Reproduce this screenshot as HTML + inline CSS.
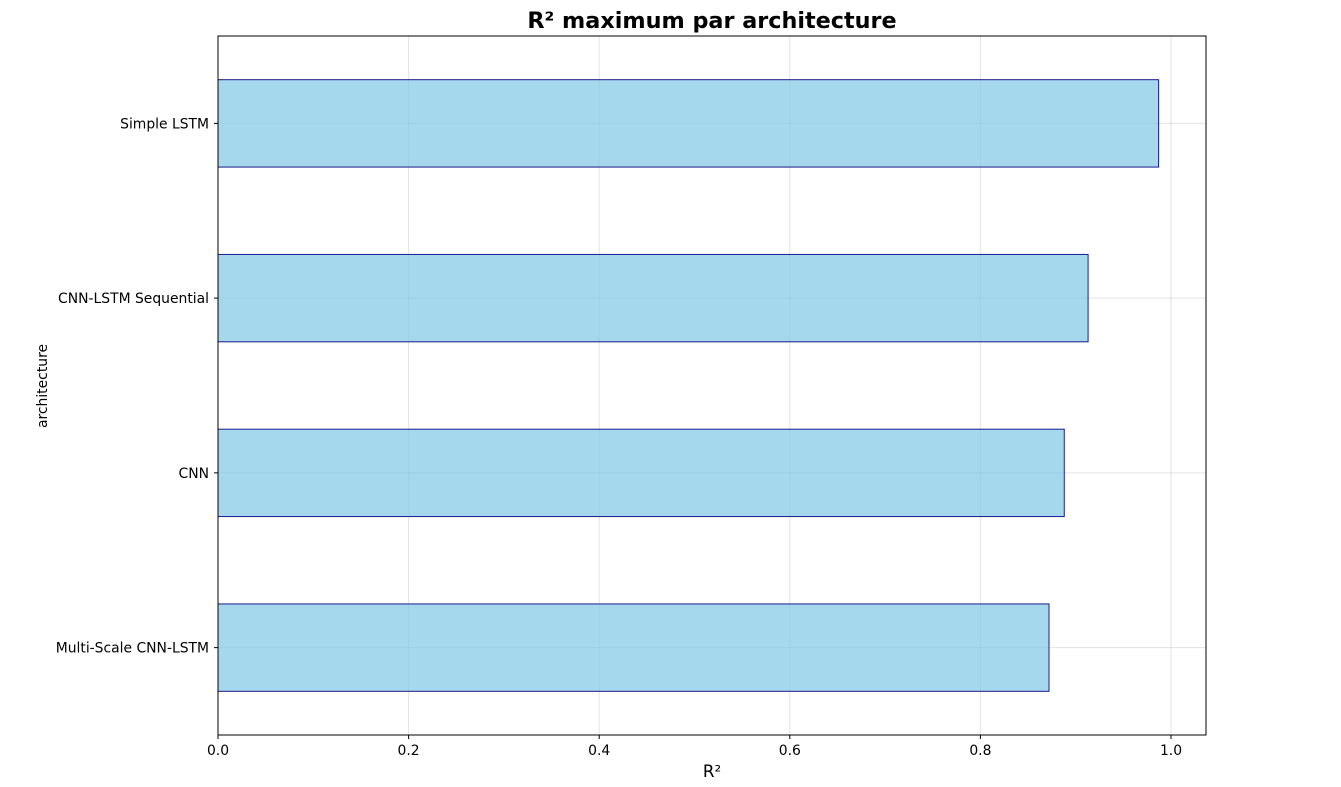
<!DOCTYPE html>
<html><head><meta charset="utf-8">
<style>
html,body{margin:0;padding:0;background:#fff;}
svg{display:block;font-family:"DejaVu Sans","Liberation Sans",sans-serif;}
</style></head>
<body>
<svg id="chart" width="1341" height="787">
<text x="712" y="28" text-anchor="middle" font-size="22.3" font-weight="bold">R² maximum par architecture</text>
<g id="grid"></g>
<g id="bars"></g>
<rect x="218" y="36" width="988" height="699" fill="none" stroke="#000" stroke-width="1"/>
<g id="xticks"></g>
<g id="yticks"></g>
<text x="712" y="777" text-anchor="middle" font-size="16.7">R²</text>
<text transform="translate(47,386) rotate(-90)" text-anchor="middle" font-size="13.9">architecture</text>
</svg>
<script>
const categories = ["Multi-Scale CNN-LSTM","CNN","CNN-LSTM Sequential","Simple LSTM"];
const values = [0.872, 0.888, 0.913, 0.987];
const xTicks = [0, 0.2, 0.4, 0.6, 0.8, 1.0];
const xTickLabels = ["0.0","0.2","0.4","0.6","0.8","1.0"];

const L=218,R=1206,T=36,B=735,XMAX=(R-L)/953;
const NS="http://www.w3.org/2000/svg";
const xs=v=>L+v/XMAX*(R-L);
const ys=i=>B-(i+0.5)/categories.length*(B-T);
const bandH=(B-T)/categories.length;
function mk(tag,attrs,parent){const e=document.createElementNS(NS,tag);for(const k in attrs)e.setAttribute(k,attrs[k]);parent.appendChild(e);return e;}
const grid=document.getElementById('grid'),bars=document.getElementById('bars'),xt=document.getElementById('xticks'),yt=document.getElementById('yticks');
xTicks.forEach((v,i)=>{
  const x=xs(v);
  const g=mk('line',{x1:x,x2:x,y1:T,y2:B,stroke:'#b0b0b0','stroke-opacity':0.35,'stroke-width':1},grid);
  
  
  const t=mk('line',{x1:x,x2:x,y1:B,y2:B+4,stroke:'#000'},xt);
  
  
  const l=mk('text',{x:x,y:B+20,'text-anchor':'middle','font-size':13.9},xt);
  l.textContent=xTickLabels[i];
  
  
});
categories.forEach((c,i)=>{
  const y=ys(i);
  const g=mk('line',{x1:L,x2:R,y1:y,y2:y,stroke:'#b0b0b0','stroke-opacity':0.35,'stroke-width':1},grid);
  
  
  const h=bandH*0.5;
  const b=mk('rect',{x:xs(0),y:y-h/2,width:xs(values[i])-xs(0),height:h,fill:'rgba(128,200,230,0.7)',stroke:'#1a1a8c','stroke-width':1},bars);
  
  
  const t=mk('line',{x1:L-4,x2:L,y1:y,y2:y,stroke:'#000'},yt);
  
  
  const l=mk('text',{x:L-9,y:y+5,'text-anchor':'end','font-size':13.9},yt);
  l.textContent=c;
  
  
});
</script>
</body></html>
